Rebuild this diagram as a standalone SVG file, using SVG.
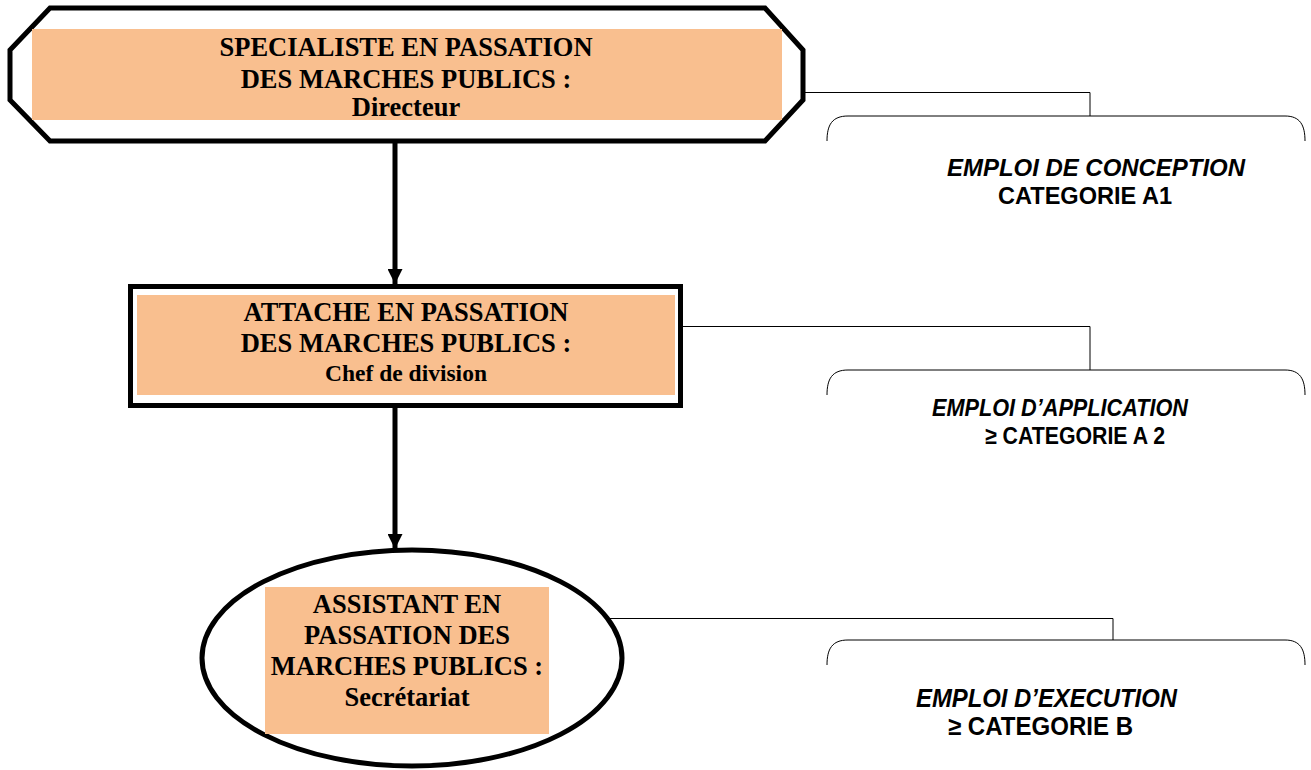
<svg xmlns="http://www.w3.org/2000/svg" width="1311" height="770" viewBox="0 0 1311 770">
<style>
.fill{fill:#F9BF8F}
.thick{fill:#fff;stroke:#000;stroke-width:5}
.tr{font-family:"Liberation Serif","Times New Roman",serif;font-weight:bold;font-size:26.5px;fill:#000;text-anchor:middle}
.ar{font-family:"Liberation Sans",Arial,sans-serif;font-weight:bold;font-size:24px;fill:#000}
.it{font-style:italic}
.conn{fill:none;stroke:#000;stroke-width:1}
.arrow{fill:none;stroke:#000;stroke-width:5}
</style>
<defs>
<marker id="ah" viewBox="0 0 10 10" refX="10" refY="5" markerWidth="3" markerHeight="3" orient="auto" markerUnits="strokeWidth">
<path d="M0,0 L10,5 L0,10 z" fill="#000"/>
</marker>
</defs>
<rect width="1311" height="770" fill="#fff"/>
<g id="connectors">
<path class="conn" d="M805,92.5 H1090 V116"/>
<path class="conn" d="M683,326.5 H1090 V370"/>
<path class="conn" d="M608,618.5 H1113 V640"/>
<path class="arrow" d="M395,143 V284" marker-end="url(#ah)"/>
<path class="arrow" d="M395,408 V549" marker-end="url(#ah)"/>
</g>
<g id="node-specialiste">
<polygon class="thick" points="50,8 765,8 803,50 803,100 765,141 50,141 10,100 10,50"/>
<rect class="fill" x="32" y="29" width="750" height="91"/>
<text class="tr" x="406" y="56">SPECIALISTE EN PASSATION</text>
<text class="tr" x="406" y="88">DES MARCHES PUBLICS :</text>
<text class="tr" x="406" y="116">Directeur</text>
</g>
<g id="node-attache">
<rect class="thick" x="130.5" y="286.5" width="550" height="119"/>
<rect class="fill" x="137" y="295" width="538" height="100"/>
<text class="tr" x="406" y="321">ATTACHE EN PASSATION</text>
<text class="tr" x="406" y="352">DES MARCHES PUBLICS :</text>
<text class="tr" x="406" y="381" style="font-size:23.5px">Chef de division</text>
</g>
<g id="node-assistant">
<ellipse class="thick" cx="412" cy="658" rx="210" ry="108"/>
<rect class="fill" x="265" y="587" width="284" height="147"/>
<text class="tr" x="407" y="613">ASSISTANT EN</text>
<text class="tr" x="407" y="644">PASSATION DES</text>
<text class="tr" x="407" y="675">MARCHES PUBLICS :</text>
<text class="tr" x="407" y="706">Secrétariat</text>
</g>
<g id="node-conception">
<path class="conn" d="M827,141 C827,125 832,116 848,116 H1285 C1300,116 1305,125 1305,141"/>
<text class="ar it" x="947" y="176" textLength="298" lengthAdjust="spacingAndGlyphs">EMPLOI DE CONCEPTION</text>
<text class="ar" x="998" y="204" textLength="174" lengthAdjust="spacingAndGlyphs">CATEGORIE A1</text>
</g>
<g id="node-application">
<path class="conn" d="M827,395 C827,379 832,370 848,370 H1285 C1300,370 1305,379 1305,395"/>
<text class="ar it" x="932" y="416" textLength="256" lengthAdjust="spacingAndGlyphs">EMPLOI D’APPLICATION</text>
<text class="ar" x="985" y="444" textLength="180" lengthAdjust="spacingAndGlyphs">≥ CATEGORIE A 2</text>
</g>
<g id="node-execution">
<path class="conn" d="M827,665 C827,649 832,640 848,640 H1285 C1300,640 1305,649 1305,665"/>
<text class="ar it" x="916" y="707" style="font-size:25.5px" textLength="261" lengthAdjust="spacingAndGlyphs">EMPLOI D’EXECUTION</text>
<text class="ar" x="948" y="735" style="font-size:25.5px" textLength="185" lengthAdjust="spacingAndGlyphs">≥ CATEGORIE B</text>
</g>
</svg>
